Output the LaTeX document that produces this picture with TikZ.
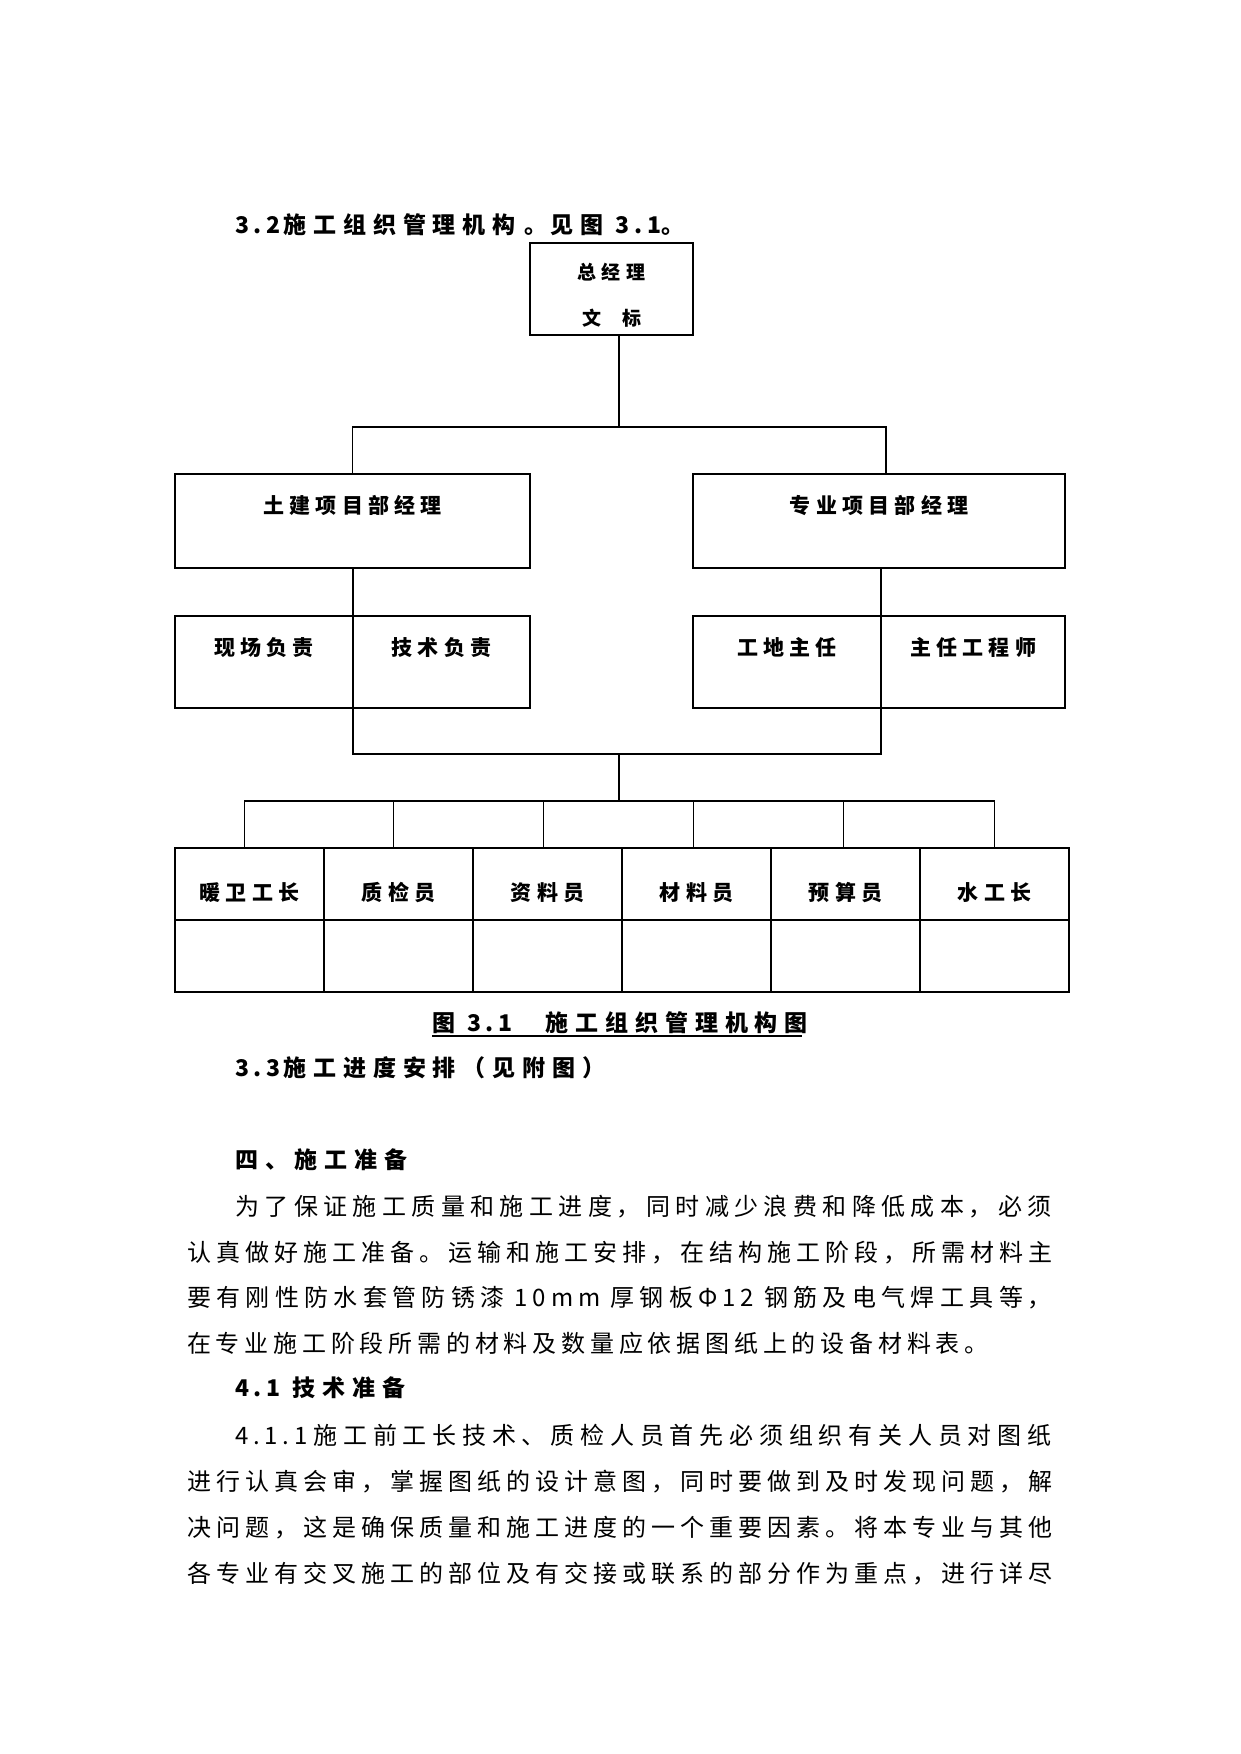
\documentclass[tikz,border=0pt]{standalone}
\usepackage{fontspec}
\setmainfont{Noto Sans CJK SC}
\usetikzlibrary{positioning}
\XeTeXlinebreaklocale "zh"
\XeTeXlinebreakskip=0pt plus 1fil
\newcommand{\manhang}{\parfillskip=0pt\relax}
\newcommand{\shuzi}[1]{{\addfontfeature{LetterSpace=20}#1}}
\tikzset{
    kuang/.style    = {draw, line width=1.2pt, inner sep=0pt, outer sep=0pt,
                       font=\fontsize{21}{24}\bfseries\addfontfeature{LetterSpace=25}},
    zong/.style     = {kuang, align=center,
                       font=\fontsize{19}{46}\bfseries\addfontfeature{LetterSpace=30}},
    bu/.style       = {kuang, minimum height=94pt, text height=15pt, text depth=31pt},
    zhi/.style      = {kuang, minimum height=92pt, text height=15pt, text depth=29pt},
    gang/.style     = {kuang, minimum width=149pt, minimum height=72pt, text height=40pt, text depth=8pt},
    kong/.style     = {kuang, minimum width=149pt, minimum height=72pt},
    biaoti/.style   = {inner sep=0pt, anchor=base west,
                       font=\fontsize{23}{26}\bfseries\addfontfeature{LetterSpace=30}},
    zhengwen/.style = {inner sep=0pt, anchor=base west,
                       font=\fontsize{24}{28}\selectfont\addfontfeature{LetterSpace=20}},
    duan/.style     = {zhengwen, text width=#1, align=justify},
    lian/.style     = {line width=1.2pt},
}
\begin{document}
\begin{tikzpicture}[x=1pt, y=-1pt]
    \fill[white] (0,0) rectangle (1241,1754);
    \useasboundingbox (0,0) rectangle (1241,1754);
    \node[biaoti] (t32) at (235,233) {\shuzi{3.2}\hspace{3pt}施工组织管理机构\hspace{9pt}。\hspace{3pt}见图 \shuzi{3.1}。};
    % chart
    \node[zong, minimum width=163pt, minimum height=92pt, anchor=north west] (zongjingli) at (530,243) {\rule{0pt}{29pt}总经理\\文\hspace{21pt}标};
    \node[bu, minimum width=355pt, anchor=north west] (tujian) at (175,474) {土建项目部经理};
    \node[bu, minimum width=372pt, anchor=north west] (zhuanye) at (693,474) {专业项目部经理};
    \node[zhi, minimum width=178pt, anchor=north west] (xianchang) at (175,616) {现场负责};
    \node[zhi, minimum width=177pt, right=0pt of xianchang] (jishu) {技术负责};
    \node[zhi, minimum width=188pt, anchor=north west] (gongdi) at (693,616) {工地主任};
    \node[zhi, minimum width=184pt, right=0pt of gongdi] (zhuren) {主任工程师};
    \node[gang, anchor=north west] (nuanwei) at (175,848) {暖卫工长};
    \node[gang, right=0pt of nuanwei] (zhijian) {质检员};
    \node[gang, right=0pt of zhijian] (ziliao) {资料员};
    \node[gang, right=0pt of ziliao] (cailiao) {材料员};
    \node[gang, right=0pt of cailiao] (yusuan) {预算员};
    \node[gang, right=0pt of yusuan] (shuigong) {水工长};
    \node[kong, below=0pt of nuanwei] (nuanwei-k) {};
    \node[kong, below=0pt of zhijian] (zhijian-k) {};
    \node[kong, below=0pt of ziliao] (ziliao-k) {};
    \node[kong, below=0pt of cailiao] (cailiao-k) {};
    \node[kong, below=0pt of yusuan] (yusuan-k) {};
    \node[kong, below=0pt of shuigong] (shuigong-k) {};
    % connecting lines
    \coordinate (j1) at (619,427);
    \coordinate (j2) at (619,754);
    \coordinate (j3) at (619,801);
    \draw[lian] (zongjingli.south -| j1) -- (j1);
    \draw[lian] (tujian.north) |- (j1) -| ([xshift=7pt]zhuanye.north);
    \draw[lian] (tujian.south -| xianchang.north east) -- (xianchang.north east);
    \draw[lian] (zhuanye.south -| gongdi.north east) -- (gongdi.north east);
    \draw[lian] (jishu.south west) |- (j2) -| (zhuren.south west);
    \draw[lian] (j2) -- (j3);
    \draw[lian] ([xshift=-5pt]nuanwei.north) |- (j3) -| (shuigong.north);
    \draw[lian] ([xshift=-5pt]zhijian.north) -- ([xshift=-5pt]zhijian.north |- j3);
    \draw[lian] ([xshift=-4pt]ziliao.north) -- ([xshift=-4pt]ziliao.north |- j3);
    \draw[lian] ([xshift=-3pt]cailiao.north) -- ([xshift=-3pt]cailiao.north |- j3);
    \draw[lian] ([xshift=-2pt]yusuan.north) -- ([xshift=-2pt]yusuan.north |- j3);
    % caption and text
    \node[biaoti] (tu31) at (432,1031) {图 \shuzi{3.1}\hspace{33pt}施工组织管理机构图};
    \draw[line width=2.5pt] ([yshift=-5pt]tu31.base west) -- ([xshift=-6pt,yshift=-5pt]tu31.base east);
    \node[biaoti] (t33) at (235,1076) {\shuzi{3.3}\hspace{3pt}施工进度安排（见附图）};
    \node[biaoti] (si) at (235,1168) {四、施工准备};
    \node[duan=822pt] (p1a) at (235,1215) {\manhang 为了保证施工质量和施工进度，同时减少浪费和降低成本，必须};
    \node[duan=870pt] (p1b) at (187,1261) {\manhang 认真做好施工准备。运输和施工安排，在结构施工阶段，所需材料主};
    \node[duan=870pt] (p1c) at (187,1306) {\manhang 要有刚性防水套管防锈漆 10mm 厚钢板Φ12 钢筋及电气焊工具等，};
    \node[zhengwen] (p1d) at (187,1352) {在专业施工阶段所需的材料及数量应依据图纸上的设备材料表。};
    \node[biaoti] (t41) at (235,1396) {\shuzi{4.1} 技术准备};
    \node[duan=822pt] (p2a) at (235,1444) {\manhang 4.1.1施工前工长技术、质检人员首先必须组织有关人员对图纸};
    \node[duan=870pt] (p2b) at (187,1490) {\manhang 进行认真会审，掌握图纸的设计意图，同时要做到及时发现问题，解};
    \node[duan=870pt] (p2c) at (187,1536) {\manhang 决问题，这是确保质量和施工进度的一个重要因素。将本专业与其他};
    \node[duan=870pt] (p2d) at (187,1582) {\manhang 各专业有交叉施工的部位及有交接或联系的部分作为重点，进行详尽};
\end{tikzpicture}
\end{document}
